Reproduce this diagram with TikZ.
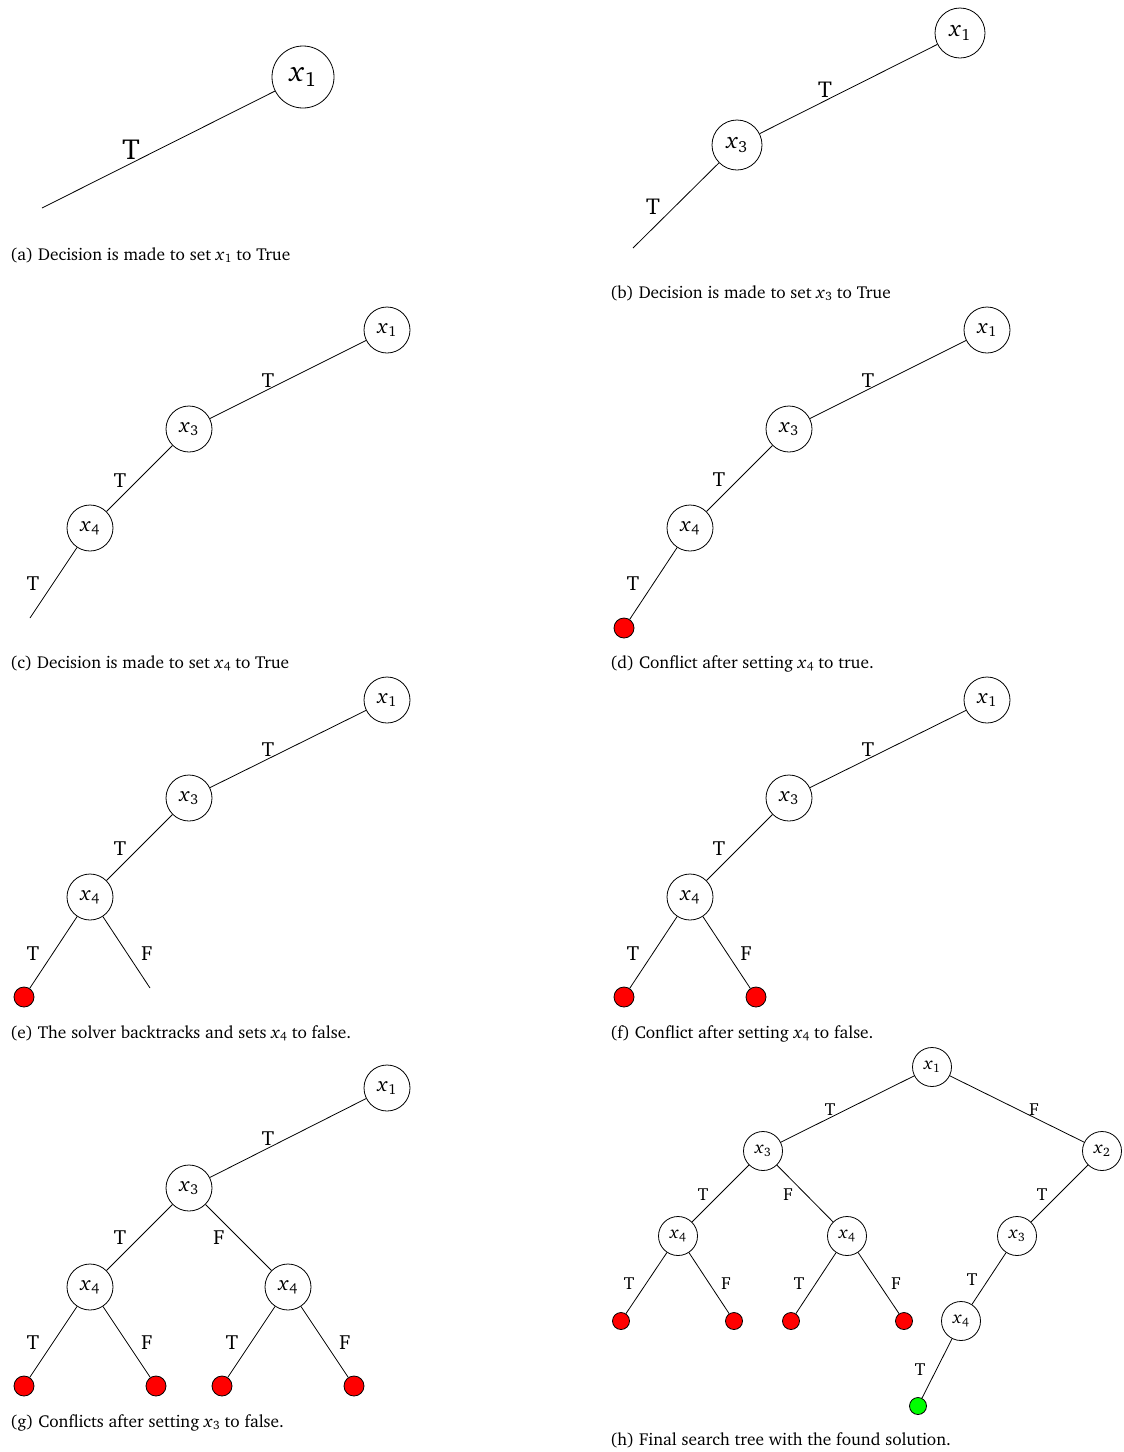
\documentclass[tikz,border=0pt]{standalone}
\usepackage[T1]{fontenc}
\usepackage{graphicx}
\usepackage{charter}
% italic variable with a lowered index, set in the text face
\newcommand{\xvar}[1]{\textit{x}\kern0.02em\raisebox{-0.16em}{\scalebox{0.7}{#1}}}
\begin{document}
\begin{tikzpicture}[x=1pt,y=-1pt,
  edge/.style={line width=0.8pt},
  var/.style={circle, draw, line width=0.8pt, inner sep=0pt, minimum size=46pt, font=\fontsize{20.5}{20.5}\selectfont},
  varA/.style={var, minimum size=62pt, font=\fontsize{29}{29}\selectfont},
  varB/.style={var, minimum size=50pt, font=\fontsize{23}{23}\selectfont},
  varH/.style={var, minimum size=39pt, font=\fontsize{17.5}{17.5}\selectfont},
  conflict/.style={circle, draw, line width=0.8pt, fill=red, inner sep=0pt, minimum size=20pt},
  conflictH/.style={conflict, minimum size=17pt},
  solved/.style={circle, draw, line width=0.8pt, fill=green, inner sep=0pt, minimum size=17pt},
  lbl/.style={inner sep=0pt, font=\fontsize{20.5}{20.5}\selectfont},
  lblA/.style={lbl, font=\fontsize{29}{29}\selectfont},
  lblB/.style={lbl, font=\fontsize{23}{23}\selectfont},
  lblH/.style={lbl, font=\fontsize{17.5}{17.5}\selectfont},
  subcap/.style={anchor=base west, inner sep=0pt, font=\fontsize{17.3}{17.3}\selectfont}]
\useasboundingbox (0,0) rectangle (1124,1452);

% (a) first decision
\node[varA] (a1) at (303,77) {\xvar{1}};
\coordinate (aend) at (42,208);
\draw[edge] (a1) -- (aend);
\node[lblA] (aT) at (131,150) {T};
\node[subcap] (acap) at (10,260) {(a) Decision is made to set \xvar{1} to True};

% (b) second decision
\node[varB] (b1) at (960,33) {\xvar{1}};
\node[varB] (b3) at (737,145) {\xvar{3}};
\coordinate (bend) at (633,248);
\draw[edge] (b1) -- (b3);
\draw[edge] (b3) -- (bend);
\node[lblB] (bT1) at (825,90) {T};
\node[lblB] (bT2) at (653,207) {T};
\node[subcap] (bcap) at (610,298) {(b) Decision is made to set \xvar{3} to True};

% (c) third decision
\node[var] (c1) at (387,330) {\xvar{1}};
\node[var] (c3) at (189,429) {\xvar{3}};
\node[var] (c4) at (90,528) {\xvar{4}};
\coordinate (cend) at (30,618);
\draw[edge] (c1) -- (c3);
\draw[edge] (c3) -- (c4);
\draw[edge] (c4) -- (cend);
\node[lbl] (cT1) at (268,380) {T};
\node[lbl] (cT2) at (120,480) {T};
\node[lbl] (cT3) at (33,583) {T};
\node[subcap] (ccap) at (10,668) {(c) Decision is made to set \xvar{4} to True};

% (d) first conflict
\node[var] (d1) at (987,330) {\xvar{1}};
\node[var] (d3) at (789,429) {\xvar{3}};
\node[var] (d4) at (690,528) {\xvar{4}};
\node[conflict] (dc) at (624,628) {};
\draw[edge] (d1) -- (d3);
\draw[edge] (d3) -- (d4);
\draw[edge] (d4) -- (dc);
\node[lbl] (dT1) at (868,380) {T};
\node[lbl] (dT2) at (719,479) {T};
\node[lbl] (dT3) at (633,583) {T};
\node[subcap] (dcap) at (610,668) {(d) Conflict after setting \xvar{4} to true.};

% (e) backtrack
\node[var] (e1) at (387,700) {\xvar{1}};
\node[var] (e3) at (189,798) {\xvar{3}};
\node[var] (e4) at (90,897) {\xvar{4}};
\node[conflict] (ec) at (24,997) {};
\coordinate (eend) at (150,988);
\draw[edge] (e1) -- (e3);
\draw[edge] (e3) -- (e4);
\draw[edge] (e4) -- (ec);
\draw[edge] (e4) -- (eend);
\node[lbl] (eT1) at (268,749) {T};
\node[lbl] (eT2) at (120,848) {T};
\node[lbl] (eT3) at (33,953) {T};
\node[lbl] (eF3) at (147,953) {F};
\node[subcap] (ecap) at (10,1038) {(e) The solver backtracks and sets \xvar{4} to false.};

% (f) second conflict
\node[var] (f1) at (987,700) {\xvar{1}};
\node[var] (f3) at (789,798) {\xvar{3}};
\node[var] (f4) at (690,897) {\xvar{4}};
\node[conflict] (fc1) at (624,997) {};
\node[conflict] (fc2) at (756,997) {};
\draw[edge] (f1) -- (f3);
\draw[edge] (f3) -- (f4);
\draw[edge] (f4) -- (fc1);
\draw[edge] (f4) -- (fc2);
\node[lbl] (fT1) at (868,749) {T};
\node[lbl] (fT2) at (719,848) {T};
\node[lbl] (fT3) at (633,953) {T};
\node[lbl] (fF3) at (746,953) {F};
\node[subcap] (fcap) at (610,1038) {(f) Conflict after setting \xvar{4} to false.};

% (g) conflicts below x3 = false
\node[var] (g1) at (387,1088) {\xvar{1}};
\node[var] (g3) at (189,1188) {\xvar{3}};
\node[var] (g4a) at (90,1287) {\xvar{4}};
\node[var] (g4b) at (288,1287) {\xvar{4}};
\node[conflict] (gc1) at (24,1386) {};
\node[conflict] (gc2) at (156,1386) {};
\node[conflict] (gc3) at (222,1386) {};
\node[conflict] (gc4) at (354,1386) {};
\draw[edge] (g1) -- (g3);
\draw[edge] (g3) -- (g4a);
\draw[edge] (g3) -- (g4b);
\draw[edge] (g4a) -- (gc1);
\draw[edge] (g4a) -- (gc2);
\draw[edge] (g4b) -- (gc3);
\draw[edge] (g4b) -- (gc4);
\node[lbl] (gT1) at (268,1138) {T};
\node[lbl] (gT2) at (120,1237) {T};
\node[lbl] (gF2) at (219,1237) {F};
\node[lbl] (gT3) at (33,1342) {T};
\node[lbl] (gF3) at (147,1342) {F};
\node[lbl] (gT4) at (232,1342) {T};
\node[lbl] (gF4) at (345,1342) {F};
\node[subcap] (gcap) at (10,1427) {(g) Conflicts after setting \xvar{3} to false.};

% (h) final search tree
\node[varH] (h1) at (932,1067) {\xvar{1}};
\node[varH] (h3) at (763,1151) {\xvar{3}};
\node[varH] (h2) at (1102,1151) {\xvar{2}};
\node[varH] (h4a) at (678,1236) {\xvar{4}};
\node[varH] (h4b) at (847,1236) {\xvar{4}};
\node[varH] (h3b) at (1017,1236) {\xvar{3}};
\node[varH] (h4c) at (961,1321) {\xvar{4}};
\node[conflictH] (hc1) at (621,1321) {};
\node[conflictH] (hc2) at (734,1321) {};
\node[conflictH] (hc3) at (791,1321) {};
\node[conflictH] (hc4) at (904,1321) {};
\node[solved] (hs) at (918,1406) {};
\draw[edge] (h1) -- (h3);
\draw[edge] (h1) -- (h2);
\draw[edge] (h3) -- (h4a);
\draw[edge] (h3) -- (h4b);
\draw[edge] (h2) -- (h3b);
\draw[edge] (h3b) -- (h4c);
\draw[edge] (h4a) -- (hc1);
\draw[edge] (h4a) -- (hc2);
\draw[edge] (h4b) -- (hc3);
\draw[edge] (h4b) -- (hc4);
\draw[edge] (h4c) -- (hs);
\node[lblH] (hT1) at (830,1110) {T};
\node[lblH] (hF1) at (1034,1110) {F};
\node[lblH] (hT2) at (703,1195) {T};
\node[lblH] (hF2) at (788,1195) {F};
\node[lblH] (hT3) at (1042,1195) {T};
\node[lblH] (hT4) at (629,1284) {T};
\node[lblH] (hF4) at (726,1284) {F};
\node[lblH] (hT5) at (799,1284) {T};
\node[lblH] (hF5) at (896,1284) {F};
\node[lblH] (hT6) at (972,1280) {T};
\node[lblH] (hT7) at (920,1370) {T};
\node[subcap] (hcap) at (610,1445) {(h) Final search tree with the found solution.};
\end{tikzpicture}
\end{document}
